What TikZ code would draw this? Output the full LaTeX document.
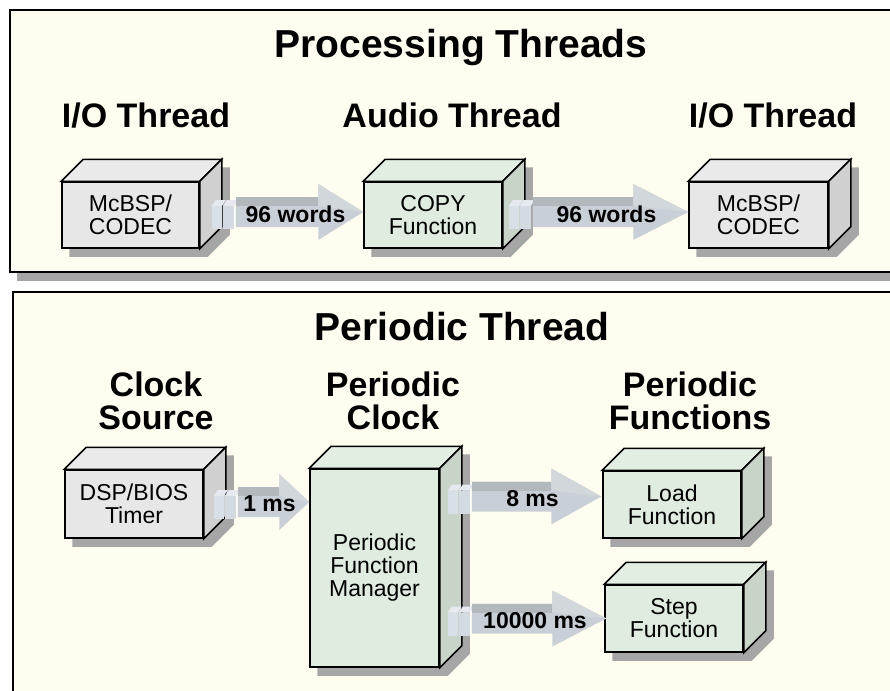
\documentclass[tikz,border=0pt]{standalone}
\usepackage{fontspec}
\setmainfont{Liberation Sans}
\usetikzlibrary{calc}

\pgfdeclarelayer{panel}
\pgfdeclarelayer{shade}
\pgfsetlayers{panel,shade,main}

\definecolor{ivory}{HTML}{FFFDEF}
\definecolor{shadowgray}{HTML}{A6A6A6}
\definecolor{grayfront}{HTML}{E7E7E7}
\definecolor{graytop}{HTML}{EAEAEA}
\definecolor{grayside}{HTML}{D0D0D0}
\definecolor{greenfront}{HTML}{E0ECE0}
\definecolor{greentop}{HTML}{E3EEE3}
\definecolor{greenside}{HTML}{C9D4C9}
\definecolor{arrowfront}{HTML}{C9CFD6}
\definecolor{arrowtop}{HTML}{B3B8BD}
\definecolor{arrowhead}{HTML}{D2D7DC}
\definecolor{tabfront}{HTML}{D9DFE7}
\definecolor{tabtop}{HTML}{E6EAF0}

\tikzset{
  panelbox/.style={draw=black, line width=2.5pt, fill=ivory},
  panelshadow/.style={fill=shadowgray},
  prismfront/.style={draw=black, line width=1.5pt, inner sep=0pt, align=center, font=\fontsize{23}{23}\selectfont},
  prismedge/.style={draw=black, line width=1.5pt},
  prismshadow/.style={fill=shadowgray},
  heading/.style={font=\bfseries\fontsize{34}{33}\selectfont, align=center, inner sep=0pt},
  paneltitle/.style={font=\bfseries\fontsize{39}{44}\selectfont, inner sep=0pt},
  flowlabel/.style={font=\bfseries\fontsize{23}{23}\selectfont, inner sep=0pt}
}

\newcommand{\prism}[6]{%
  \node[prismfront, fill=#5front, minimum width=#3, minimum height=#4] (#1) at (#2) {#6};
  \begin{pgfonlayer}{shade}
    \fill[prismshadow] ($(#1.north west)+(8,8)$) -- ++(22,-22) -- ($(#1.north east)+(30,-14)$) -- ($(#1.south east)+(30,-14)$) -- ($(#1.south east)+(8,8)$) -- ($(#1.south west)+(8,8)$) -- cycle;
  \end{pgfonlayer}
  \draw[prismedge, fill=#5top] (#1.north west) -- ++(22,-22) -- ($(#1.north east)+(22,-22)$) -- (#1.north east) -- cycle;
  \draw[prismedge, fill=#5side] (#1.north east) -- ++(22,-22) -- ($(#1.south east)+(22,-22)$) -- (#1.south east) -- cycle;
}

\newcommand{\flow}[5]{%
  \coordinate (fs) at (#2);
  \coordinate (fe) at (#3);
  \fill[tabfront] ($(fs)+(0,-6)$) rectangle ($(fs)+(10,17)$);
  \fill[tabtop] ($(fs)+(0,-6)$) -- ($(fs)+(4,-12)$) -- ($(fs)+(14,-12)$) -- ($(fs)+(10,-6)$) -- cycle;
  \fill[tabfront!70!arrowfront] ($(fs)+(11,-6)$) rectangle ($(fs)+(22,17)$);
  \fill[tabtop] ($(fs)+(11,-6)$) -- ($(fs)+(15,-12)$) -- ($(fs)+(26,-12)$) -- ($(fs)+(22,-6)$) -- cycle;
  \fill[arrowfront] ($(fs)+(24,-15)$) -- ($(fe)+(-#4,-15)$) -- ($(fe)+(-#4,-28)$) -- (fe) -- ($(fe)+(-#4,28)$) -- ($(fe)+(-#4,15)$) -- ($(fs)+(24,15)$) -- cycle;
  \fill[arrowtop] ($(fs)+(24,-15)$) -- ($(fe)+(-#4,-15)$) -- ($(fe)+(-#4,-6)$) -- ($(fs)+(24,-6)$) -- cycle;
  \fill[arrowhead] ($(fe)+(-#4,-28)$) -- (fe) -- ($(fe)+(-#4,-6)$) -- cycle;
  \node[flowlabel] (#1) at ($(fs)!0.5!(fe)+(8,2)$) {#5};
}

\begin{document}
\begin{tikzpicture}[x=1pt, y=-1pt]
\useasboundingbox (0,0) rectangle (890,690);

\begin{pgfonlayer}{panel}
  \fill[panelshadow] (17,272) rectangle (900,281);
  \draw[panelbox] (10,10) rectangle (900,272);
  \draw[panelbox] (13,292) rectangle (900,700);
\end{pgfonlayer}

\node[paneltitle, anchor=base] (proctitle) at (461,58) {Processing Threads};
\node[heading, anchor=base] (iohead1) at (146,128) {I/O Thread};
\node[heading, anchor=base] (audiohead) at (452,128) {Audio Thread};
\node[heading, anchor=base] (iohead2) at (773,128) {I/O Thread};

\prism{io1}{130.5,215}{137pt}{66pt}{gray}{McBSP/\\CODEC}
\prism{audio}{433,215}{138pt}{66pt}{green}{COPY\\Function}
\prism{io2}{758.5,215}{139pt}{66pt}{gray}{McBSP/\\CODEC}

\flow{wordsin}{$(io1.east)+(12,-3)$}{$(audio.west)+(0,-3)$}{45}{96 words}
\flow{wordsout}{$(audio.east)+(6,-3)$}{$(io2.west)+(0,-3)$}{55}{96 words}

\node[paneltitle, anchor=base] (pertitle) at (462,340) {Periodic Thread};
\node[heading, anchor=base] (clockhead) at (156,429) {Clock\\Source};
\node[heading, anchor=base] (perclockhead) at (393,429) {Periodic\\Clock};
\node[heading, anchor=base] (perfunchead) at (690,429) {Periodic\\Functions};

\prism{timer}{134,504}{138pt}{68pt}{gray}{DSP/BIOS\\Timer}
\prism{pfm}{374.5,568}{129pt}{198pt}{green}{Periodic\\Function\\Manager}
\prism{load}{672,504.5}{138pt}{67pt}{green}{Load\\Function}
\prism{step}{674,618.5}{138pt}{67pt}{green}{Step\\Function}

\flow{tick}{$(timer.east)+(10,-2)$}{$(timer.east-|pfm.west)+(0,-2)$}{30}{1 ms}
\flow{loadrate}{$(pfm.east|-load.west)+(8,-8)$}{$(load.west)+(-1,-8)$}{50}{8 ms}
\flow{steprate}{$(pfm.east|-step.west)+(8,0)$}{$(step.west)+(2,0)$}{54}{10000 ms}

\end{tikzpicture}
\end{document}
